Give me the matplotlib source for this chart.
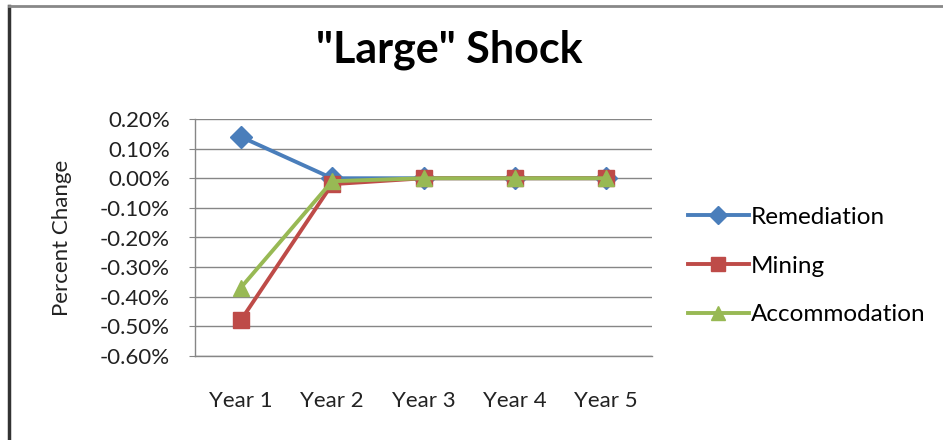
import matplotlib
matplotlib.use("Agg")
import matplotlib.pyplot as plt
from matplotlib.lines import Line2D

categories = ["Year 1", "Year 2", "Year 3", "Year 4", "Year 5"]
remediation = [0.14, 0.00, 0.00, 0.00, 0.00]
mining = [-0.48, -0.02, 0.00, 0.00, 0.00]
accommodation = [-0.37, -0.01, 0.00, 0.00, 0.00]
yticks = [0.20, 0.10, 0.00, -0.10, -0.20, -0.30, -0.40, -0.50, -0.60]
title = '"Large" Shock'
ylabel = "Percent Change"

plt.rcParams['font.family'] = ['Lato', 'DejaVu Sans']
FS = 16

fig = plt.figure(figsize=(9.43, 4.40), dpi=100)
ax = fig.add_axes([195/943, 1-356/440, (652-195)/943, (356-119)/440])

x = list(range(len(categories)))
series = [
    ("Remediation", remediation, "#4A7EBB", "D", 11),
    ("Mining", mining, "#BE4B48", "s", 12),
    ("Accommodation", accommodation, "#98B954", "^", 12),
]
for name, vals, col, mk, ms in series:
    ax.plot(x, vals, color=col, lw=2.8, marker=mk, markersize=ms,
            markerfacecolor=col, markeredgecolor=col, label=name, zorder=3)

ax.set_xlim(-0.5, len(categories) - 0.5)
ax.set_ylim(-0.60, 0.20)
ax.set_yticks(yticks)
ax.set_yticklabels([f"{v:.2f}%" for v in yticks])
ax.set_xticks(x)
ax.set_xticklabels(categories)
ax.tick_params(axis='y', length=4, color="#868686", labelsize=FS, colors="#222222", pad=14)
ax.tick_params(axis='x', length=0, labelsize=FS, colors="#222222", pad=25)
ax.grid(axis='y', color="#868686", lw=1)
ax.set_axisbelow(True)
for s in ["top", "right"]:
    ax.spines[s].set_visible(False)
for s in ["left", "bottom"]:
    ax.spines[s].set_color("#868686")
    ax.spines[s].set_linewidth(1)

fig.text(62/943, 1-238/440, ylabel, rotation=90, ha='center', va='center',
         fontsize=FS, color="#222222")
fig.text(449/943, 1-50/440, title, ha='center', va='center',
         fontsize=31, fontweight='bold', color="black")

handles = [Line2D([], [], color=c, lw=2.8, marker=m, markersize=ms * 0.8,
                  markerfacecolor=c, markeredgecolor=c) for _, _, c, m, ms in series]
fig.legend(handles, [s[0] for s in series], loc='center left',
           bbox_to_anchor=(688/943, 1-266/440), frameon=False, fontsize=17.5,
           handlelength=2.5, handletextpad=0.1, labelspacing=1.15, borderaxespad=0,
           borderpad=0)

# figure frame (left and top edges visible)
fig.add_artist(Line2D([9/943, 9/943], [0, 1-6/440], color="#333333", lw=2.5, transform=fig.transFigure))
fig.add_artist(Line2D([9/943, 1], [1-6/440, 1-6/440], color="#888888", lw=2, transform=fig.transFigure))

fig.savefig("out.png", dpi=100, facecolor="white")
